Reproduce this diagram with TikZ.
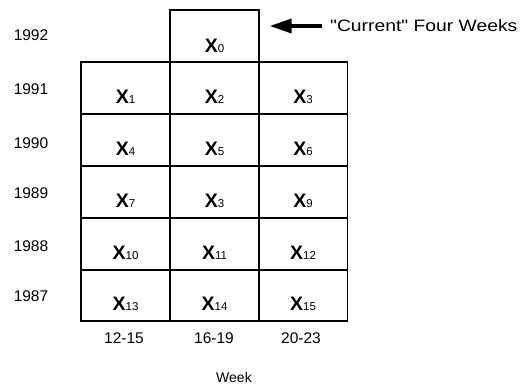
\documentclass[tikz,border=0pt]{standalone}
\usepackage{fontspec}
\setmainfont{Liberation Sans}
\newfontfamily\plainsans{Liberation Sans}
\usetikzlibrary{arrows.meta}
\tikzset{
  cell/.style={draw, line width=1.3pt, minimum width=89pt, minimum height=52pt, inner sep=0pt},
  xlab/.style={font=\fontsize{19.5}{20}\selectfont\bfseries, inner sep=0pt},
  year/.style={font=\fontsize{15.5}{16}\selectfont, inner sep=0pt},
  wk/.style={font=\fontsize{15.5}{16}\selectfont, inner sep=0pt},
  bigarrow/.style={line width=3.5pt, -{Triangle[length=22pt,width=14pt]}}
}
\newcommand{\xv}[1]{X{\fontsize{11.5}{12}\selectfont\mdseries #1}}
\begin{document}
\begin{tikzpicture}[x=1pt,y=-1pt]
\useasboundingbox (0,0) rectangle (523,387);
% top cell
\node[cell] (c0) at (214.5,36) {};
\node[xlab] (l0) at ([yshift=-10pt]c0.center) {\xv{0}};
% grid cells
\foreach \r/\yy in {0/88,1/140,2/192,3/244,4/295.5}{
  \foreach \c/\xx in {1/125.5,2/214.5,3/303}{
    \pgfmathtruncatemacro{\n}{3*\r+\c}
    \ifnum\r=4
      \node[cell, minimum height=51pt] (c\n) at (\xx,\yy) {};
    \else
      \node[cell] (c\n) at (\xx,\yy) {};
    \fi
  }
}
\node[xlab] (l1) at ([yshift=-9pt]c1.center) {\xv{1}};
\node[xlab] (l2) at ([yshift=-9pt]c2.center) {\xv{2}};
\node[xlab] (l3) at ([yshift=-9pt]c3.center) {\xv{3}};
\node[xlab] (l4) at ([yshift=-9pt]c4.center) {\xv{4}};
\node[xlab] (l5) at ([yshift=-9pt]c5.center) {\xv{5}};
\node[xlab] (l6) at ([yshift=-9pt]c6.center) {\xv{6}};
\node[xlab] (l7) at ([yshift=-9pt]c7.center) {\xv{7}};
\node[xlab] (l8) at ([yshift=-9pt]c8.center) {\xv{3}};
\node[xlab] (l9) at ([yshift=-9pt]c9.center) {\xv{9}};
\node[xlab] (l10) at ([yshift=-9pt]c10.center) {\xv{10}};
\node[xlab] (l11) at ([yshift=-9pt]c11.center) {\xv{11}};
\node[xlab] (l12) at ([yshift=-9pt]c12.center) {\xv{12}};
\node[xlab] (l13) at ([yshift=-8pt]c13.center) {\xv{13}};
\node[xlab] (l14) at ([yshift=-8pt]c14.center) {\xv{14}};
\node[xlab] (l15) at ([yshift=-8pt]c15.center) {\xv{15}};
% years
\node[year] (y1992) at (31,35) {1992};
\node[year] (y1991) at (31,89) {1991};
\node[year] (y1990) at (31,143) {1990};
\node[year] (y1989) at (31,193) {1989};
\node[year] (y1988) at (31,246) {1988};
\node[year] (y1987) at (31,296) {1987};
% weeks
\node[wk] (w1) at (124,338) {12-15};
\node[wk] (w2) at (214,338) {16-19};
\node[wk] (w3) at (301,338) {20-23};
\node[font=\fontsize{14}{14}\selectfont, inner sep=0pt] (week) at (234,377) {Week};
% current label
\node[font=\plainsans\fontsize{16.5}{17}\selectfont, inner sep=0pt, anchor=west] (cur) at (330,26) {\scalebox{1.17}[1]{"Current" Four Weeks}};
\draw[bigarrow] ([xshift=-8pt]cur.west) -- ([xshift=10pt]c0.east |- cur.west);
\end{tikzpicture}
\end{document}
